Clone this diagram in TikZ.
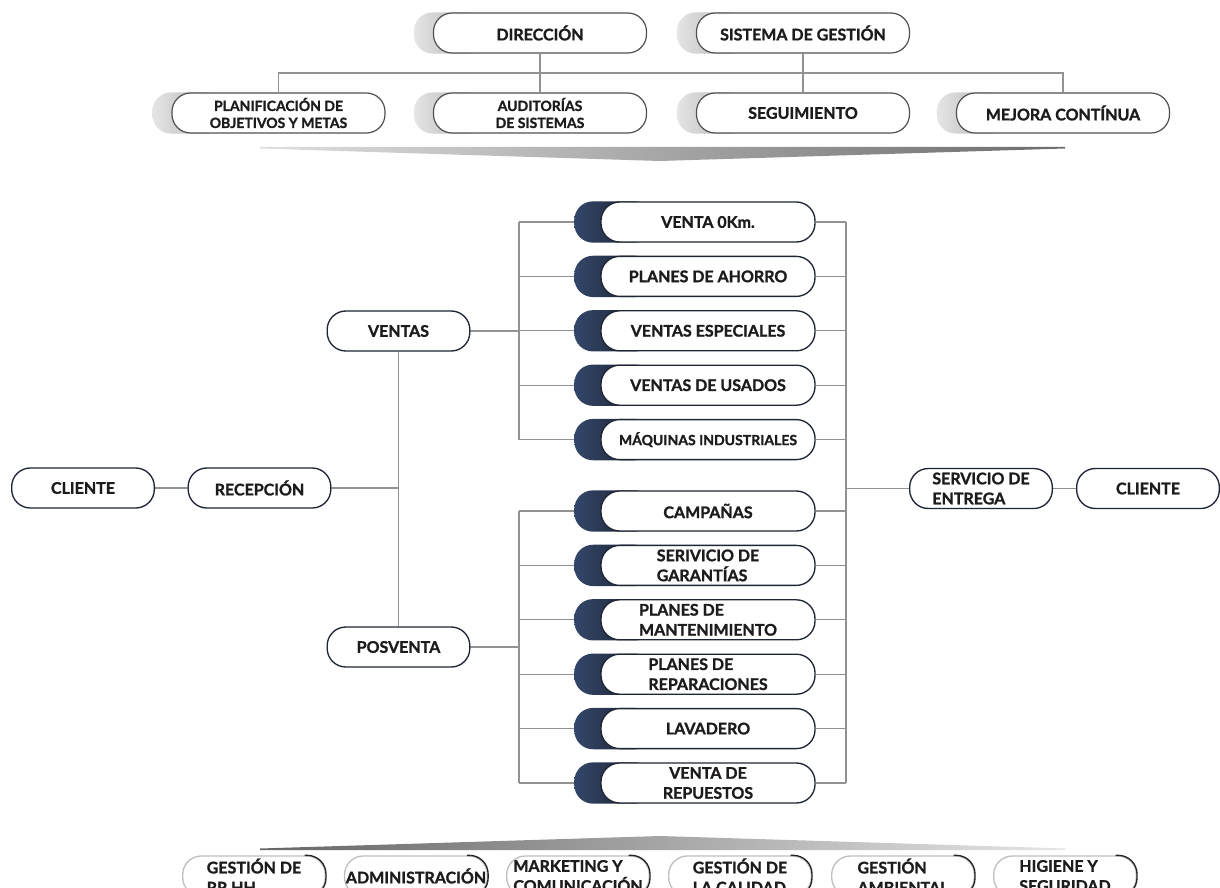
\documentclass[tikz,border=0pt]{standalone}
\usepackage{fontspec}
\setmainfont{Lato}
\setsansfont{Lato}[BoldFeatures={FakeBold=1.3}]
\usetikzlibrary{backgrounds}
\definecolor{navy}{HTML}{1E2534}
\definecolor{navyA}{HTML}{34476A}
\definecolor{navyB}{HTML}{161A24}
\definecolor{linkgray}{HTML}{929292}
\definecolor{boxgray}{HTML}{505050}
\definecolor{inkgray}{HTML}{1E1B1C}

\begin{document}
\begin{tikzpicture}[x=0.75pt,y=-0.75pt,font=\sffamily\bfseries,
    pill/.style={draw,fill=white,rounded corners=14pt,minimum height=30pt,inner sep=1pt,
      align=center,text=inkgray,font=\sffamily\bfseries\fontsize{12}{15}\selectfont},
    top pill/.style={pill,draw=boxgray,line width=0.9pt,minimum width=159.75pt},
    side pill/.style={pill,draw=navy,line width=1pt,minimum width=160.5pt},
    end pill/.style={pill,draw=navy,line width=1pt,minimum width=107pt},
    foot pill/.style={pill,draw=gray!50,line width=1pt,minimum width=107pt},
    small/.style={font=\sffamily\bfseries\fontsize{10.5}{12.75}\selectfont},
    link/.style={draw=linkgray,line width=0.8pt},
    grey shadow/.style={left color=gray!20,right color=gray!70,rounded corners=14pt},
    navy shadow/.style={left color=navyA,right color=navyB,rounded corners=14pt}]
    \useasboundingbox (0,0) rectangle (1220,888);

    % management on top
    \node[top pill] (dir) at (540,33) {DIRECCIÓN};
    \node[top pill] (sis) at (803,33) {SISTEMA DE GESTIÓN};
    \node[top pill,small] (pla) at (278.5,113) {PLANIFICACIÓN DE\\OBJETIVOS Y METAS};
    \node[top pill,small] (aud) at (540,113) {AUDITORÍAS\\DE SISTEMAS};
    \node[top pill] (seg) at (803,113) {SEGUIMIENTO};
    \node[top pill] (mej) at (1063,113) {MEJORA CONTÍNUA};
    \coordinate (tbus) at (540,73);

    \shade[left color=gray!25,right color=gray!85!black] (260,147) -- (1065,147) -- (1065,148.5) -- (660,161) -- (260,148.5) -- cycle;

    % main flow
    \node[end pill] (cli1) at (83,488) {CLIENTE};
    \node[end pill] (rec) at (259.5,488) {RECEPCIÓN};
    \node[end pill] (ven) at (398.5,331) {VENTAS};
    \node[end pill] (pos) at (398.5,647) {POSVENTA};
    \node[end pill,align=left] (ser) at (981,488.5) {SERVICIO DE\\ENTREGA};
    \node[end pill] (cli2) at (1148,488.5) {CLIENTE};

    \node[side pill] (v1) at (708,222) {VENTA 0Km.};
    \node[side pill] (v2) at (708,276.4) {PLANES DE AHORRO};
    \node[side pill] (v3) at (708,330.8) {VENTAS ESPECIALES};
    \node[side pill] (v4) at (708,385.2) {VENTAS DE USADOS};
    \node[side pill,font=\sffamily\bfseries\fontsize{10.5}{13}\selectfont] (v5) at (708,439.6) {MÁQUINAS INDUSTRIALES};
    \node[side pill] (p1) at (708,511) {CAMPAÑAS};
    \node[side pill,align=left] (p2) at (708,565.4) {SERIVICIO DE\\GARANTÍAS};
    \node[side pill,align=left] (p3) at (708,619.8) {PLANES DE\\MANTENIMIENTO};
    \node[side pill,align=left] (p4) at (708,674.2) {PLANES DE\\REPARACIONES};
    \node[side pill] (p5) at (708,728.6) {LAVADERO};
    \node[side pill] (p6) at (708,783) {VENTA DE\\REPUESTOS};
    \coordinate (lbus) at (519,0);
    \coordinate (rbus) at (846,0);

    % support areas
    \shade[left color=gray!80!black,right color=gray!20] (260,850) -- (1065,850) -- (1065,848.5) -- (660,836) -- (260,848.5) -- cycle;
    \node[foot pill,align=left] (f1) at (254,876) {GESTIÓN DE\\RR.HH};
    \node[foot pill] (f2) at (416,876) {ADMINISTRACIÓN};
    \node[foot pill,align=left] (f3) at (578,876) {MARKETING Y\\COMUNICACIÓN};
    \node[foot pill,align=left] (f4) at (740,876) {GESTIÓN DE\\LA CALIDAD};
    \node[foot pill,align=left] (f5) at (903,876) {GESTIÓN\\AMBIENTAL};
    \node[foot pill,align=left] (f6) at (1065,876) {HIGIENE Y\\SEGURIDAD};
    \foreach \n in {f1,f2,f3,f4,f5,f6} {
        \begin{scope}
        \clip ([xshift=-16pt,yshift=2pt]\n.north east) rectangle ([xshift=2pt,yshift=-2pt]\n.south east);
        \draw[gray!30!black,line width=1pt,rounded corners=14pt] (\n.north west) rectangle (\n.south east);
        \end{scope}
    }

    \begin{scope}[on background layer]
    \draw[link] (dir.south) -- (aud.north);
    \draw[link] (sis.south) -- (seg.north);
    \draw[link] (pla.north) |- (tbus) -| (mej.north);
    \foreach \n in {dir,sis,pla,aud,seg,mej}
        \shade[grey shadow] ([xshift=-14.25pt]\n.north west) rectangle ([xshift=40pt]\n.south west);

    \draw[link] (cli1.east) -- (rec.west);
    \draw[link] (ven.south) -- (pos.north);
    \draw[link] (rec.east) -- (rec.east -| ven.south);
    \draw[link] (ven.east) -- (ven.east -| lbus);
    \draw[link] (pos.east) -- (pos.east -| lbus);
    \draw[link] (v1.west -| lbus) -- (v5.west -| lbus);
    \draw[link] (p1.west -| lbus) -- (p6.west -| lbus);
    \draw[link] (v1.east -| rbus) -- (p6.east -| rbus);
    \draw[link] (ser.west -| rbus) -- (ser.west);
    \draw[link] (ser.east) -- (cli2.west);
    \foreach \n in {v1,v2,v3,v4,v5,p1,p2,p3,p4,p5,p6} {
        \draw[link] (\n.west -| lbus) -- (\n.west);
        \draw[link] (\n.east) -- (\n.east -| rbus);
        \shade[navy shadow] ([xshift=-19.5pt]\n.north west) rectangle ([xshift=40pt]\n.south west);
    }
    \end{scope}
\end{tikzpicture}
\end{document}
